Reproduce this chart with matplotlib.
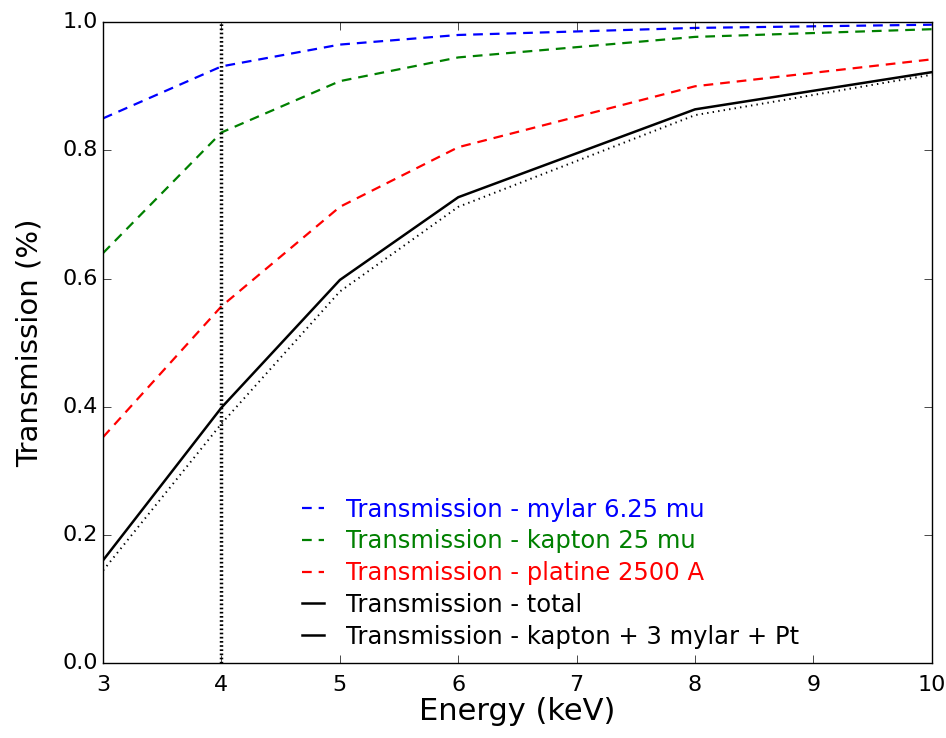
import matplotlib
matplotlib.use('Agg')
import matplotlib.pyplot as plt

energy = [3, 4, 5, 6, 8, 10]
mylar = [0.85, 0.931, 0.965, 0.980, 0.991, 0.996]
kapton = [0.640, 0.828, 0.908, 0.945, 0.977, 0.989]
platine = [0.353, 0.557, 0.712, 0.805, 0.900, 0.942]
total = [0.161, 0.399, 0.598, 0.727, 0.864, 0.922]
combo = [0.145, 0.374, 0.580, 0.712, 0.855, 0.918]

labels = ['Transmission - mylar 6.25 mu', 'Transmission - kapton 25 mu',
          'Transmission - platine 2500 A', 'Transmission - total',
          'Transmission - kapton + 3 mylar + Pt']
colors = ['blue', 'green', 'red', 'black', 'black']

plt.style.use('classic')
plt.rcParams['font.family'] = ['DejaVu Sans']
fig = plt.figure(figsize=(9.46, 7.38), dpi=100, facecolor='white')
ax = fig.add_axes([0.109, 0.101, 0.876, 0.869])

dash = (7, 5)
ax.plot(energy, mylar, '--', color=colors[0], lw=1.6, dashes=dash, label=labels[0])
ax.plot(energy, kapton, '--', color=colors[1], lw=1.6, dashes=dash, label=labels[1])
ax.plot(energy, platine, '--', color=colors[2], lw=1.6, dashes=dash, label=labels[2])
ax.plot(energy, total, '-', color=colors[3], lw=1.8, label=labels[3])
ax.plot(energy, combo, ':', color=colors[4], lw=1.4, label=labels[4])
ax.axvline(4, color='black', lw=2.5, dashes=(1.2, 1.8))

ax.set_xlim(3, 10)
ax.set_ylim(0, 1)
ax.set_yticks([0.0, 0.2, 0.4, 0.6, 0.8, 1.0])
ax.tick_params(labelsize=16, length=6)
ax.tick_params(axis='x', pad=8)
ax.set_xlabel('Energy (keV)', fontsize=22, labelpad=2)
ax.set_ylabel('Transmission (%)', fontsize=21, labelpad=13)

leg = ax.legend(loc='lower left', bbox_to_anchor=(0.205, -0.011), frameon=False,
                fontsize=17.5, handlelength=1.5, handletextpad=0.6,
                labelspacing=0.32)
leg.get_lines()[4].set_linestyle('-')
leg.get_lines()[4].set_linewidth(1.8)
for t, c in zip(leg.get_texts(), colors):
    t.set_color(c)

fig.savefig('out.png', dpi=100, facecolor='white')
